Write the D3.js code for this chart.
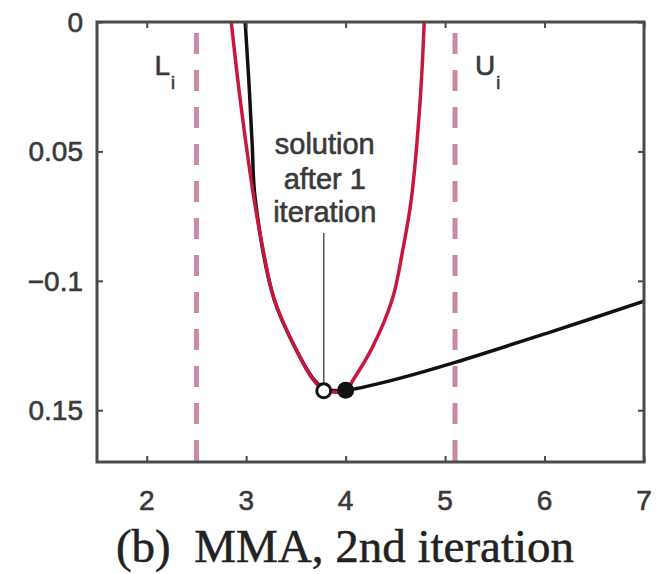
<!DOCTYPE html>
<html>
<head>
<meta charset="utf-8">
<script src="https://cdn.jsdelivr.net/npm/d3@7"></script>
<style>
  html, body { margin: 0; padding: 0; background: #fff; }
  svg { display: block; }
</style>
</head>
<body>
<svg id="chart" width="662" height="574"></svg>
<script>
// True objective (black) sampled along x
const objectiveX = [2.99, 3.03, 3.06, 3.09, 3.28, 3.50, 3.67, 3.78, 3.88, 4.0, 4.11, 4.30, 4.55, 5.10, 6.05, 7.0];
const objectiveY = [0, -0.025, -0.047, -0.068, -0.107, -0.1264, -0.1376, -0.1416, -0.1424, -0.1423, -0.1416, -0.1400, -0.1376, -0.1315, -0.1199, -0.1079];

// MMA convex approximation (red) around the current iterate
const approxX = [2.85, 2.94, 3.08, 3.17, 3.28, 3.50, 3.67, 3.78, 3.88, 4.0, 4.08, 4.26, 4.47, 4.575, 4.66, 4.75, 4.79];
const approxY = [0, -0.030, -0.0686, -0.088, -0.107, -0.1264, -0.138, -0.1422, -0.1430, -0.1423, -0.138, -0.1264, -0.107, -0.088, -0.0686, -0.030, 0];

// Move limits
const asymptoteX = [2.5, 5.1];
const asymptoteLabels = ["L", "U"];

// Iterates
const solutionPoint = [3.78, -0.1425];   // minimiser of the approximation
const currentPoint = [4.0, -0.1423];     // current iterate

// Axes
const xTicks = [2, 3, 4, 5, 6, 7];
const xTickLabels = ["2", "3", "4", "5", "6", "7"];
const yTicks = [0, -0.05, -0.1, -0.15];
const yTickLabels = ["0", "0.05", "\u22120.1", "0.15"];

const annotationLines = ["solution", "after 1", "iteration"];
const caption = "(b)\u00a0 MMA, 2nd iteration";

const svg = d3.select("#chart");
const plotLeft = 97, plotRight = 644, plotTop = 22, plotBottom = 462;
const sans = "Liberation Sans, Arial, sans-serif";
const textColor = "#3a3a3a";

const x = d3.scaleLinear().domain([1.5, 7]).range([plotLeft, plotRight]);
const y = d3.scaleLinear().domain([-0.17, 0]).range([plotBottom, plotTop]);

svg.append("clipPath").attr("id", "plotclip")
  .append("rect").attr("x", plotLeft).attr("y", plotTop)
  .attr("width", plotRight - plotLeft).attr("height", plotBottom - plotTop);

const plot = svg.append("g");

// Dashed move limits
plot.selectAll("line.limit").data(asymptoteX).join("line")
  .attr("class", "limit")
  .attr("x1", d => x(d)).attr("x2", d => x(d))
  .attr("y1", plotTop).attr("y2", plotBottom)
  .attr("stroke", "#cc88a8").attr("stroke-width", 5)
  .attr("stroke-dasharray", "21,16")
  .attr("stroke-dashoffset", 26);

// Limit labels with subscript i
const labelOffsets = [-42, 20];
asymptoteX.forEach((v, i) => {
  const t = plot.append("text")
    .attr("x", x(v) + labelOffsets[i]).attr("y", 75)
    .attr("font-family", sans)
    .attr("font-size", 28).attr("fill", textColor)
    .attr("stroke", textColor).attr("stroke-width", 0.6);
  t.append("tspan").text(asymptoteLabels[i]);
  t.append("tspan").attr("font-size", 18).attr("dy", 14).attr("dx", 1).text("i");
});

const lineGen = d3.line().x(d => x(d[0])).y(d => y(d[1])).curve(d3.curveCatmullRom.alpha(0.5));

const objective = objectiveX.map((v, i) => [v, objectiveY[i]]);
const approx = approxX.map((v, i) => [v, approxY[i]]);

const curves = plot.append("g").attr("clip-path", "url(#plotclip)");
curves.append("path").datum(objective)
  .attr("d", lineGen).attr("fill", "none")
  .attr("stroke", "#111").attr("stroke-width", 3.5);
curves.append("path").datum(approx)
  .attr("d", lineGen).attr("fill", "none")
  .attr("stroke", "#c8173d").attr("stroke-width", 3.5);

// Annotation
const annX = x(solutionPoint[0]);
plot.append("line")
  .attr("x1", annX).attr("x2", annX)
  .attr("y1", 233).attr("y2", y(solutionPoint[1]) - 7)
  .attr("stroke", "#555").attr("stroke-width", 1.5);
plot.selectAll("text.ann").data(annotationLines).join("text")
  .attr("class", "ann")
  .attr("x", annX + 1)
  .attr("y", (d, i) => [154, 189, 222][i])
  .attr("text-anchor", "middle")
  .attr("font-family", sans)
  .attr("font-size", 29).attr("fill", textColor)
  .attr("stroke", textColor).attr("stroke-width", 0.6)
  .text(d => d);

// Points
plot.append("circle")
  .attr("cx", x(solutionPoint[0])).attr("cy", y(solutionPoint[1]))
  .attr("r", 7).attr("fill", "#fff").attr("stroke", "#111").attr("stroke-width", 3);
plot.append("circle")
  .attr("cx", x(currentPoint[0])).attr("cy", y(currentPoint[1]))
  .attr("r", 8.5).attr("fill", "#111");

// Frame and ticks
const axisColor = "#4a4a4a";
const bottomAxis = d3.axisBottom(x).tickValues(xTicks).tickSize(-6).tickFormat("");
const topAxis = d3.axisTop(x).tickValues(xTicks).tickSize(-6).tickFormat("");
const leftAxis = d3.axisLeft(y).tickValues(yTicks).tickSize(-6).tickFormat("");
const rightAxis = d3.axisRight(y).tickValues(yTicks).tickSize(-6).tickFormat("");

function styleAxis(g) {
  g.select(".domain").remove();
  g.selectAll(".tick line").attr("stroke", axisColor).attr("stroke-width", 2);
}
svg.append("g").attr("transform", `translate(0,${plotBottom})`).call(bottomAxis).call(styleAxis);
svg.append("g").attr("transform", `translate(0,${plotTop})`).call(topAxis).call(styleAxis);
svg.append("g").attr("transform", `translate(${plotLeft},0)`).call(leftAxis).call(styleAxis);
svg.append("g").attr("transform", `translate(${plotRight},0)`).call(rightAxis).call(styleAxis);

svg.append("rect")
  .attr("x", plotLeft).attr("y", plotTop)
  .attr("width", plotRight - plotLeft).attr("height", plotBottom - plotTop)
  .attr("fill", "none").attr("stroke", axisColor).attr("stroke-width", 3);

// Tick labels
svg.selectAll("text.xt").data(xTicks).join("text")
  .attr("class", "xt")
  .attr("x", d => x(d)).attr("y", 510)
  .attr("text-anchor", "middle")
  .attr("font-family", sans)
  .attr("font-size", 28).attr("fill", textColor)
  .attr("stroke", textColor).attr("stroke-width", 0.6)
  .text((d, i) => xTickLabels[i]);

svg.selectAll("text.yt").data(yTicks).join("text")
  .attr("class", "yt")
  .attr("x", 83).attr("y", d => y(d) + 10)
  .attr("text-anchor", "end")
  .attr("font-family", sans)
  .attr("font-size", 28).attr("fill", textColor)
  .attr("stroke", textColor).attr("stroke-width", 0.6)
  .text((d, i) => yTickLabels[i]);

// Caption
svg.append("text")
  .attr("x", 345).attr("y", 562)
  .attr("text-anchor", "middle")
  .attr("font-family", "Liberation Serif, Times New Roman, serif")
  .attr("font-size", 47).attr("fill", "#222")
  .attr("stroke", "#222").attr("stroke-width", 0.5)
  .text(caption);
</script>
</body>
</html>
